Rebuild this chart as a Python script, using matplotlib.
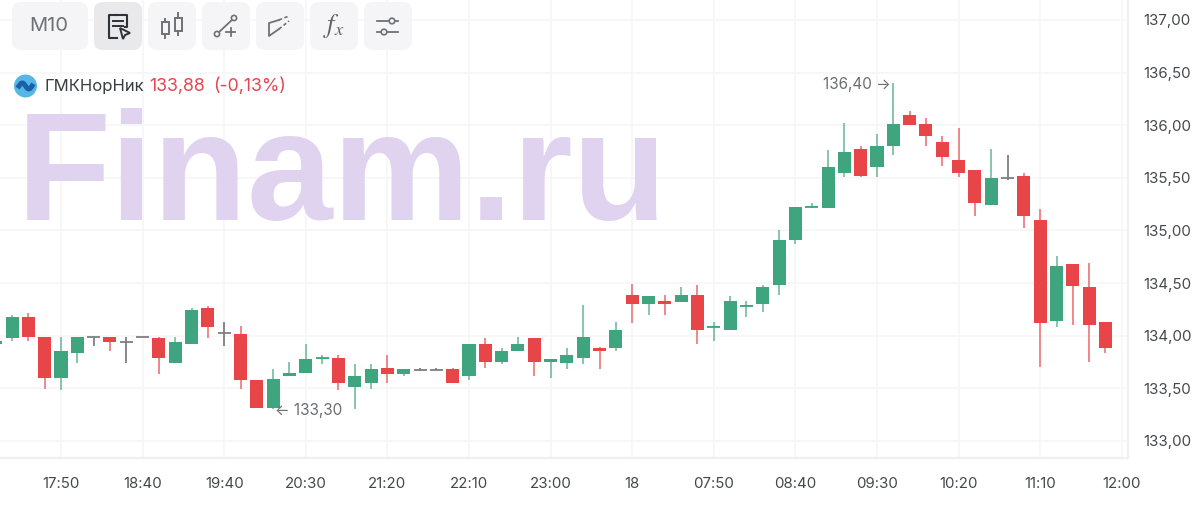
import numpy as np
import matplotlib
matplotlib.use('Agg')
import matplotlib.pyplot as plt
from matplotlib.patches import FancyBboxPatch, Circle, Polygon

plt.rcParams['font.family'] = ['Inter', 'DejaVu Sans']

opens = [133.92, 133.98, 134.18, 133.99, 133.60, 133.84, 133.99, 133.99, 133.94, 133.99,
         133.98, 133.74, 133.92, 134.26, 134.03, 134.02, 133.58, 133.31, 133.62, 133.65,
         133.78, 133.79, 133.51, 133.55, 133.69, 133.64, 133.67, 133.67, 133.68, 133.62,
         133.92, 133.75, 133.85, 133.98, 133.75, 133.74, 133.79, 133.88, 133.88, 134.39,
         134.30, 134.33, 134.32, 134.39, 134.08, 134.05, 134.28, 134.30, 134.48, 134.91,
         135.22, 135.21, 135.55, 135.77, 135.60, 135.80, 136.10, 136.01, 135.84, 135.67,
         135.57, 135.24, 135.50, 135.52, 135.10, 134.14, 134.68, 134.46, 134.13]
highs = [133.95, 134.20, 134.22, 133.99, 133.99, 133.99, 133.99, 133.99, 133.99, 133.99,
         133.99, 133.99, 134.26, 134.28, 134.13, 134.09, 133.58, 133.68, 133.75, 133.92,
         133.82, 133.82, 133.73, 133.73, 133.82, 133.68, 133.69, 133.69, 133.69, 133.92,
         133.98, 133.88, 133.99, 133.98, 133.78, 133.88, 134.29, 133.89, 134.13, 134.49,
         134.38, 134.39, 134.46, 134.48, 134.13, 134.38, 134.33, 134.48, 135.00, 135.22,
         135.26, 135.76, 136.02, 135.80, 135.92, 136.40, 136.14, 136.07, 135.90, 135.97,
         135.57, 135.77, 135.72, 135.55, 135.20, 134.76, 134.68, 134.69, 134.13]
lows = [133.92, 133.95, 133.95, 133.49, 133.48, 133.74, 133.90, 133.85, 133.74, 133.99,
        133.64, 133.74, 133.92, 133.98, 133.90, 133.49, 133.31, 133.30, 133.62, 133.65,
        133.73, 133.48, 133.30, 133.49, 133.55, 133.62, 133.66, 133.67, 133.55, 133.58,
        133.69, 133.73, 133.85, 133.62, 133.60, 133.68, 133.73, 133.68, 133.85, 134.12,
        134.20, 134.20, 134.32, 133.92, 133.95, 134.05, 134.18, 134.23, 134.39, 134.87,
        135.21, 135.21, 135.51, 135.51, 135.51, 135.72, 136.00, 135.80, 135.61, 135.51,
        135.14, 135.24, 135.48, 135.02, 133.70, 134.08, 134.10, 133.75, 133.84]
closes = [133.95, 134.18, 133.99, 133.60, 133.85, 133.99, 133.99, 133.94, 133.94, 133.99,
          133.79, 133.94, 134.24, 134.08, 134.03, 133.58, 133.31, 133.59, 133.65, 133.78,
          133.79, 133.55, 133.62, 133.68, 133.64, 133.68, 133.67, 133.67, 133.55, 133.92,
          133.75, 133.85, 133.92, 133.75, 133.78, 133.82, 133.99, 133.85, 134.05, 134.30,
          134.38, 134.30, 134.39, 134.05, 134.09, 134.33, 134.29, 134.46, 134.91, 135.22,
          135.23, 135.60, 135.75, 135.52, 135.80, 136.01, 136.00, 135.90, 135.70, 135.55,
          135.26, 135.50, 135.50, 135.14, 134.12, 134.66, 134.47, 134.10, 133.88]

price_ticks = [133.0, 133.5, 134.0, 134.5, 135.0, 135.5, 136.0, 136.5, 137.0]
time_ticks = [4, 9, 14, 19, 24, 29, 34, 39, 44, 49, 54, 59, 64, 69]
time_labels = ['17:50', '18:40', '19:40', '20:30', '21:20', '22:10', '23:00',
               '18', '07:50', '08:40', '09:30', '10:20', '11:10', '12:00']

RED, GREEN, GRAY = '#e84549', '#3fa57f', '#7d7f84'
RED_W, GREEN_W = '#ee7f83', '#7cc0a6'
GRID = '#f6f6f8'

W, H = 1200, 521
fig = plt.figure(figsize=(12, 5.21), dpi=100, facecolor='white')

# chart area, 1128 x 458 px
ax = fig.add_axes([0, (H - 458) / H, 1128 / W, 458 / H])
ax.set_xlim(0.262, 69.38)
ax.set_ylim(132.838, 137.19)
ax.set_axisbelow(True)
ax.grid(True, color=GRID, linewidth=1.2)
for s in ['top', 'left']:
    ax.spines[s].set_visible(False)
for s in ['right', 'bottom']:
    ax.spines[s].set_color('#f0f0f2')
    ax.spines[s].set_linewidth(1.6)

ax.yaxis.tick_right()
ax.set_yticks(price_ticks)
ax.set_yticklabels([f'{p:.2f}'.replace('.', ',') for p in price_ticks])
ax.set_xticks(time_ticks)
ax.set_xticklabels(time_labels)
ax.tick_params(axis='both', length=0, labelsize=10.8, labelcolor='#45474c')
ax.tick_params(axis='x', pad=13.5)
ax.tick_params(axis='y', pad=11)

ax.text(0.0145, 0.52, 'Finam.ru', transform=ax.transAxes, fontsize=111, fontweight='bold',
        family='Liberation Sans', color='#e0d3f0', va='baseline', ha='left', zorder=1)

x = np.arange(len(opens))
for i in x:
    o, h, l, c = opens[i], highs[i], lows[i], closes[i]
    if o == c:
        col, wick = GRAY, GRAY
    elif c > o:
        col, wick = GREEN, GREEN_W
    else:
        col, wick = RED, RED_W
    ax.vlines(i, l, h, color=wick, linewidth=1.3, zorder=3)
    ax.bar(i, abs(c - o), bottom=min(o, c), width=0.8, color=col, linewidth=0, zorder=4)
    # thin bodies still show as a 1.5 px line
    if abs(c - o) < 0.02:
        ax.hlines((o + c) / 2, i - 0.4, i + 0.4, color=col, linewidth=1.3, zorder=4)

imax = int(np.argmax(highs))
imin = int(np.argmin(lows))
ax.annotate(f'{highs[imax]:.2f}'.replace('.', ',') + ' →', (imax, highs[imax]),
            xytext=(-2, -1), textcoords='offset points', ha='right', va='center',
            fontsize=11, color='#6c6e73', zorder=5)
ax.annotate('← ' + f'{lows[imin]:.2f}'.replace('.', ','), (imin, lows[imin]),
            xytext=(1, -1), textcoords='offset points', ha='left', va='center',
            fontsize=11, color='#6c6e73', zorder=5)

# toolbar and ticker label sit on top, in pixel coordinates
ui = fig.add_axes([0, 0, 1, 1])
ui.set_xlim(0, W)
ui.set_ylim(H, 0)
ui.axis('off')
ui.patch.set_alpha(0)

boxes = [(12, 76, '#f5f5f7'), (94, 48, '#e9e9ec'), (148, 48, '#f5f5f7'), (202, 48, '#f5f5f7'),
         (256, 48, '#f5f5f7'), (310, 48, '#f5f5f7'), (364, 48, '#f5f5f7')]
for bx, bw, bc in boxes:
    ui.add_patch(FancyBboxPatch((bx + 9, 11), bw - 18, 30, boxstyle='round,pad=9,rounding_size=9',
                                linewidth=0, facecolor=bc, zorder=1))

ui.text(49, 26, 'M10', ha='center', va='center', fontsize=14.5, color='#6e7076')

ICON = '#6f7177'
# report + cursor
ui.plot([117, 109, 109, 116], [38, 38, 15, 15], color='#2f3136', lw=1.5, zorder=2)
ui.plot([116, 127, 127, 125], [15, 15, 27, 27], color='#2f3136', lw=1.5, zorder=2)
ui.plot([113, 123], [21, 21], color='#2f3136', lw=1.4, zorder=2)
ui.plot([113, 123], [26, 26], color='#2f3136', lw=1.4, zorder=2)
ui.add_patch(Polygon([[120, 28], [130, 33], [125, 35], [123, 39]], closed=True, fill=False,
                     edgecolor='#2f3136', lw=1.4, zorder=2))
# candles
ui.plot([165, 165], [19, 38], color=ICON, lw=1.4, zorder=2)
ui.plot([178, 178], [13, 35], color=ICON, lw=1.4, zorder=2)
ui.add_patch(plt.Rectangle((161.5, 22), 7, 12, fc='#f5f5f7', ec=ICON, lw=1.4, zorder=3))
ui.add_patch(plt.Rectangle((174.5, 18), 7, 13, fc='#f5f5f7', ec=ICON, lw=1.4, zorder=3))
# line tool
ui.plot([218, 233], [33, 19], color=ICON, lw=1.3, zorder=2)
ui.add_patch(Circle((217, 34), 2.6, fc='#f5f5f7', ec=ICON, lw=1.2, zorder=3))
ui.add_patch(Circle((234, 18), 2.6, fc='#f5f5f7', ec=ICON, lw=1.2, zorder=3))
ui.plot([226, 235], [32, 32], color=ICON, lw=1.3, zorder=2)
ui.plot([230.5, 230.5], [28, 36], color=ICON, lw=1.3, zorder=2)
# channel
ui.plot([279, 269, 269, 279], [20, 23, 36, 29], color=ICON, lw=1.3, zorder=2)
ui.plot([279, 289], [20, 16], color=ICON, lw=1.2, ls=(0, (2, 1.5)), zorder=2)
ui.plot([279, 289], [29, 21], color=ICON, lw=1.2, ls=(0, (2, 1.5)), zorder=2)
# fx
ui.text(334, 26, r'$\mathit{f}_{\mathit{x}}$', ha='center', va='center', fontsize=19, color='#5f6167',
        math_fontfamily='stix', zorder=2)
# sliders
ui.plot([377, 398], [21, 21], color=ICON, lw=1.3, zorder=2)
ui.plot([377, 398], [32, 32], color=ICON, lw=1.3, zorder=2)
ui.add_patch(Circle((392, 21), 2.8, fc='#f5f5f7', ec=ICON, lw=1.2, zorder=3))
ui.add_patch(Circle((384, 32), 2.8, fc='#f5f5f7', ec=ICON, lw=1.2, zorder=3))

# ticker
ui.add_patch(Circle((25.5, 86), 11.5, fc='#55b7e6', lw=0, zorder=2))
t = np.linspace(0, 1, 30)
ui.plot(19 + 13 * t, 86 - 3 * np.sin(t * 2 * np.pi), color='#1b5fa8', lw=3.6, zorder=3)
ui.text(44, 86, 'ГМКНорНик', ha='left', va='center', fontsize=12, color='#3a3c41', zorder=2)
ui.text(149, 86, '133,88', ha='left', va='center', fontsize=12.8, color='#e8454f', zorder=2)
ui.text(213, 86, '(-0,13%)', ha='left', va='center', fontsize=12.8, color='#e8454f', zorder=2)

fig.savefig('out.png', dpi=100)
